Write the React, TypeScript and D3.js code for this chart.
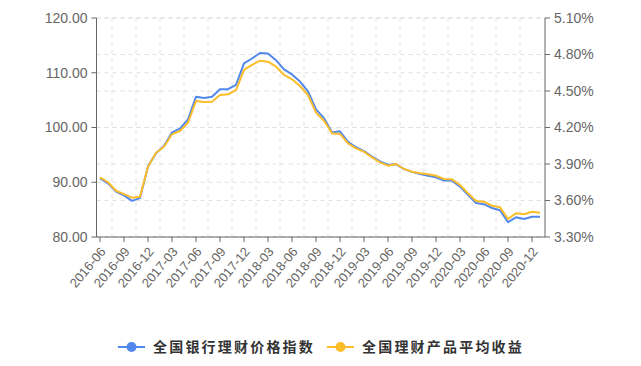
import React from "react";
import * as d3 from "d3";

const months: string[] = [
  "2016-06","2016-07","2016-08","2016-09","2016-10","2016-11","2016-12",
  "2017-01","2017-02","2017-03","2017-04","2017-05","2017-06","2017-07","2017-08","2017-09","2017-10","2017-11","2017-12",
  "2018-01","2018-02","2018-03","2018-04","2018-05","2018-06","2018-07","2018-08","2018-09","2018-10","2018-11","2018-12",
  "2019-01","2019-02","2019-03","2019-04","2019-05","2019-06","2019-07","2019-08","2019-09","2019-10","2019-11","2019-12",
  "2020-01","2020-02","2020-03","2020-04","2020-05","2020-06","2020-07","2020-08","2020-09","2020-10","2020-11","2020-12",
  "2021-01",
];

const priceIndex: number[] = [
  90.7, 89.8, 88.3, 87.6, 86.6, 87.1, 92.9, 95.3, 96.6, 99.1, 99.8, 101.5,
  105.6, 105.4, 105.6, 107.0, 107.0, 107.8, 111.7, 112.6, 113.6, 113.5, 112.3,
  110.6, 109.7, 108.4, 106.6, 103.3, 101.7, 99.1, 99.3, 97.4, 96.4, 95.7, 94.7,
  93.8, 93.2, 93.3, 92.4, 91.9, 91.5, 91.2, 90.9, 90.3, 90.3, 89.2, 87.7, 86.2,
  86.0, 85.3, 84.9, 82.7, 83.6, 83.3, 83.7, 83.7,
];

const avgYield: number[] = [
  3.79, 3.75, 3.68, 3.653, 3.623, 3.63, 3.878, 3.993, 4.042, 4.144, 4.171, 4.24,
  4.418, 4.41, 4.412, 4.467, 4.473, 4.508, 4.673, 4.714, 4.749, 4.741, 4.70,
  4.632, 4.596, 4.541, 4.467, 4.322, 4.256, 4.152, 4.147, 4.07, 4.029, 4.001,
  3.955, 3.914, 3.886, 3.90, 3.859, 3.837, 3.824, 3.815, 3.803, 3.777, 3.774,
  3.727, 3.659, 3.596, 3.59, 3.557, 3.544, 3.448, 3.495, 3.487, 3.508, 3.50,
];

const leftTicks: number[] = [80, 90, 100, 110, 120];
const rightTicks: number[] = [3.3, 3.6, 3.9, 4.2, 4.5, 4.8, 5.1];
const seriesNames: string[] = ["全国银行理财价格指数", "全国理财产品平均收益"];
const colors: string[] = ["#5288ec", "#fbbd2a"];

const W = 641;
const H = 366;
const plotLeft = 96.5;
const plotRight = 545;
const plotTop = 18;
const plotBottom = 237;

export default function App() {
  const x = d3.scalePoint<string>().domain(months).range([100, 540]);
  const step = x.step();
  const yL = d3.scaleLinear().domain([80, 120]).range([plotBottom, plotTop]);
  const yR = d3.scaleLinear().domain([3.3, 5.1]).range([plotBottom, plotTop]);

  const lineL = d3
    .line<number>()
    .x((_, i) => x(months[i]) as number)
    .y((d) => yL(d));
  const lineR = d3
    .line<number>()
    .x((_, i) => x(months[i]) as number)
    .y((d) => yR(d));

  const labelIdx = months.map((_, i) => i).filter((i) => i % 3 === 0 && i < 55);
  const gridXs = labelIdx.map((i) => (x(months[i]) as number) + step * 1.5).filter((v) => v < plotRight - 2);

  const font = "'Liberation Sans', 'DejaVu Sans', sans-serif";
  const axisColor = "#666";
  const textColor = "#666";
  const gridColor = "#e0e0e0";

  return (
    <svg width={W} height={H} style={{ position: "absolute", left: 0, top: 0, background: "#fff" }}>
      {/* grid */}
      <g stroke={gridColor} strokeWidth={1} strokeDasharray="4,4">
        {leftTicks.map((t) => (
          <line key={"gl" + t} x1={plotLeft} x2={plotRight} y1={yL(t)} y2={yL(t)} />
        ))}
        {rightTicks.map((t) => (
          <line key={"gr" + t} x1={plotLeft} x2={plotRight} y1={yR(t)} y2={yR(t)} />
        ))}
        {gridXs.map((gx) => (
          <line key={"gx" + gx} x1={gx} x2={gx} y1={plotTop} y2={plotBottom} />
        ))}
      </g>

      {/* lines */}
      <path d={lineL(priceIndex) || ""} fill="none" stroke={colors[0]} strokeWidth={2} strokeLinejoin="round" />
      <path d={lineR(avgYield) || ""} fill="none" stroke={colors[1]} strokeWidth={2} strokeLinejoin="round" />

      {/* left axis */}
      <line x1={plotLeft} x2={plotLeft} y1={plotTop} y2={plotBottom} stroke={axisColor} strokeWidth={1} />
      {leftTicks.map((t) => (
        <g key={"lt" + t}>
          <line x1={plotLeft - 5} x2={plotLeft} y1={yL(t)} y2={yL(t)} stroke={axisColor} />
          <text x={plotLeft - 9} y={yL(t)} dy="0.35em" textAnchor="end" fontSize={14} fill={textColor} fontFamily={font}>
            {t.toFixed(2)}
          </text>
        </g>
      ))}

      {/* right axis */}
      <line x1={plotRight} x2={plotRight} y1={plotTop} y2={plotBottom} stroke={axisColor} strokeWidth={1} />
      {rightTicks.map((t) => (
        <g key={"rt" + t}>
          <line x1={plotRight} x2={plotRight + 5} y1={yR(t)} y2={yR(t)} stroke={axisColor} />
          <text x={plotRight + 9} y={yR(t)} dy="0.35em" textAnchor="start" fontSize={14} fill={textColor} fontFamily={font}>
            {t.toFixed(2) + "%"}
          </text>
        </g>
      ))}

      {/* bottom axis */}
      <line x1={plotLeft} x2={plotRight} y1={plotBottom} y2={plotBottom} stroke={axisColor} strokeWidth={1} />
      {labelIdx.map((i) => {
        const px = x(months[i]) as number;
        return (
          <g key={"xt" + i}>
            <line x1={px} x2={px} y1={plotBottom} y2={plotBottom + 5} stroke={axisColor} />
            <text
              transform={`translate(${px + 3},${plotBottom + 12}) rotate(-50)`}
              textAnchor="end"
              dy="0.35em"
              fontSize={13}
              fill={textColor}
              fontFamily={font}
            >
              {months[i]}
            </text>
          </g>
        );
      })}

      {/* legend */}
      {[0, 1].map((k) => {
        const lx = k === 0 ? 118 : 327;
        const ly = 347;
        return (
          <g key={"lg" + k}>
            <line x1={lx} x2={lx + 27} y1={ly} y2={ly} stroke={colors[k]} strokeWidth={2} />
            <circle cx={lx + 13.5} cy={ly} r={5} fill={colors[k]} />
            <text
              x={lx + 35}
              y={ly}
              dy="0.36em"
              fontSize={14}
              letterSpacing={2.2}
              fill="#333"
              fontWeight={600}
              fontFamily="'Noto Sans CJK SC', sans-serif"
            >
              {seriesNames[k]}
            </text>
          </g>
        );
      })}
    </svg>
  );
}
